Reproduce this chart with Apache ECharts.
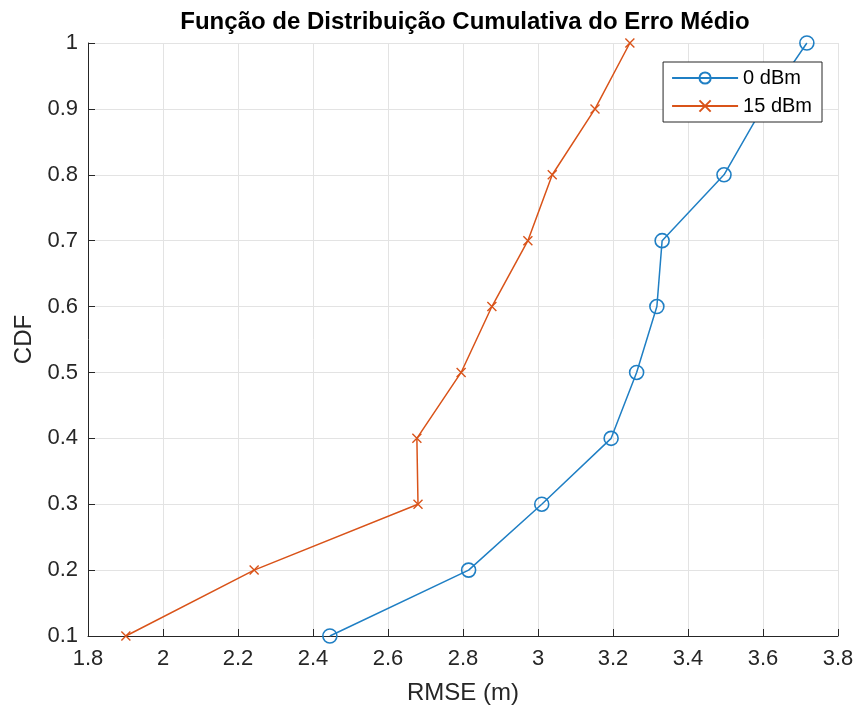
<!DOCTYPE html>
<html><head><meta charset="utf-8">
<script src="https://cdn.jsdelivr.net/npm/echarts@6/dist/echarts.min.js"></script>
<style>html,body{margin:0;padding:0;background:#fff}#c{width:858px;height:711px}</style>
</head><body><div id="c"></div>
<script>
const cdf = [0.1,0.2,0.3,0.4,0.5,0.6,0.7,0.8,0.9,1.0];
const rmse0 = [2.445,2.815,3.010,3.195,3.263,3.317,3.331,3.496,3.597,3.717];
const rmse15 = [1.901,2.243,2.680,2.677,2.795,2.877,2.973,3.038,3.152,3.245];
const seriesNames = ['0 dBm','15 dBm'];
const titleText = 'Função de Distribuição Cumulativa do Erro Médio';
const xName = 'RMSE (m)', yName = 'CDF';

const chart = echarts.init(document.getElementById('c'), null, {renderer:'canvas'});
const font = 'Helvetica, Arial, "Liberation Sans", sans-serif';
const axisColor = '#262626';
chart.setOption({
  animation:false,
  backgroundColor:'#fff',
  title:{text:titleText,left:460,top:5,textAlign:'center',textStyle:{fontFamily:font,fontSize:24,fontWeight:'bold',color:'#000'}},
  grid:{left:88,right:20,top:43,bottom:75,containLabel:false},
  legend:{
    orient:'vertical',right:36,top:62,z:10,
    backgroundColor:'#fff',borderColor:'#262626',borderWidth:1,
    padding:[6,10,6,8],itemGap:8,itemWidth:66,itemHeight:14,
    textStyle:{fontFamily:font,fontSize:20,color:'#000'},
    data:seriesNames
  },
  xAxis:{
    type:'value',min:1.8,max:3.8,interval:0.2,
    name:xName,nameLocation:'middle',nameGap:45,
    nameTextStyle:{fontFamily:font,fontSize:24,color:axisColor},
    axisLine:{show:true,onZero:false,lineStyle:{color:axisColor,width:1}},
    axisTick:{show:true,inside:true,length:7,lineStyle:{color:axisColor}},
    axisLabel:{fontFamily:font,fontSize:22,color:axisColor,margin:12},
    splitLine:{show:true,lineStyle:{color:'#e3e3e3',width:1}}
  },
  yAxis:{
    type:'value',min:0.1,max:1,interval:0.1,
    name:yName,nameLocation:'middle',nameGap:49,nameRotate:90,
    nameTextStyle:{fontFamily:font,fontSize:24,color:axisColor},
    axisLine:{show:true,onZero:false,lineStyle:{color:axisColor,width:1}},
    axisTick:{show:true,inside:true,length:7,lineStyle:{color:axisColor}},
    axisLabel:{fontFamily:font,fontSize:22,color:axisColor,margin:10,
      formatter:v=>String(Math.round(v*10)/10)},
    splitLine:{show:true,lineStyle:{color:'#e3e3e3',width:1}}
  },
  series:[
    {name:seriesNames[0],type:'line',data:rmse0.map((x,i)=>[x,cdf[i]]),
     symbol:'circle',symbolSize:14,showAllSymbol:true,
     lineStyle:{color:'#1f7fc4',width:1.5},
     itemStyle:{color:'rgba(255,255,255,0)',borderColor:'#1f7fc4',borderWidth:1.6},z:2},
    {name:seriesNames[1],type:'line',data:rmse15.map((x,i)=>[x,cdf[i]]),
     symbol:'path://M0,0L10,10M10,0L0,10',symbolSize:9,showAllSymbol:true,
     lineStyle:{color:'#D95319',width:1.5},
     itemStyle:{color:'rgba(0,0,0,0)',borderColor:'#D95319',borderWidth:1.4},z:3}
  ]
});
</script></body></html>
